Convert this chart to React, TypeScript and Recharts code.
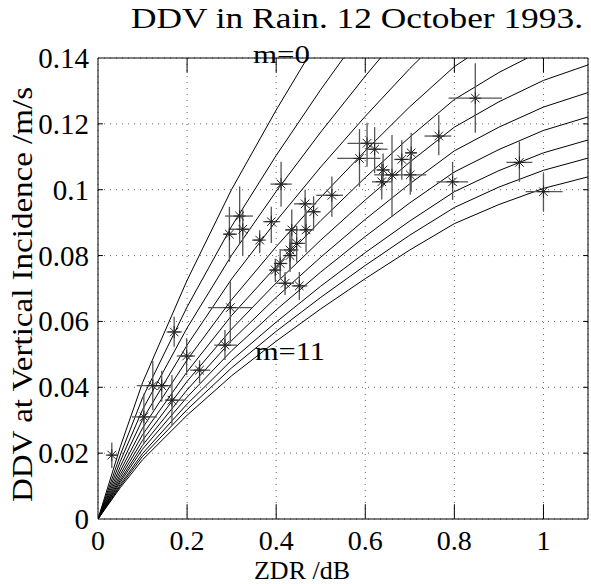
import React from 'react';
import {
  ComposedChart, Line, Scatter, XAxis, YAxis, CartesianGrid, ErrorBar, ReferenceLine,
} from 'recharts';

const curveZdr = [0, 0.05, 0.1, 0.2, 0.3, 0.4, 0.5, 0.6, 0.7, 0.8, 0.9, 1.0, 1.1];

// DDV along each curve (m = 0 .. 11), read at curveZdr
const ddvM0 = [0, 0.0219, 0.0414, 0.0725, 0.1001, 0.1242];
const ddvM1 = [0, 0.0194, 0.0368, 0.0644, 0.0889, 0.1104, 0.1304];
const ddvM2 = [0, 0.0175, 0.0332, 0.058, 0.0801, 0.0995, 0.1175, 0.1345];
const ddvM3 = [0, 0.0159, 0.0302, 0.0528, 0.0729, 0.0905, 0.1069, 0.1223, 0.1368];
const ddvM4 = [0, 0.0146, 0.0276, 0.0483, 0.0666, 0.0827, 0.0977, 0.1118, 0.1252, 0.1374];
const ddvM5 = [0, 0.0135, 0.0256, 0.0447, 0.0618, 0.0767, 0.0906, 0.1037, 0.116, 0.1274, 0.1356];
const ddvM6 = [0, 0.0126, 0.0239, 0.0418, 0.0577, 0.0717, 0.0847, 0.0969, 0.1084, 0.119, 0.1267, 0.1332, 0.1379];
const ddvM7 = [0, 0.0118, 0.0224, 0.0392, 0.0542, 0.0673, 0.0795, 0.091, 0.1018, 0.1118, 0.119, 0.1251, 0.1295];
const ddvM8 = [0, 0.0112, 0.0212, 0.037, 0.0511, 0.0635, 0.075, 0.0858, 0.096, 0.1054, 0.1122, 0.118, 0.1221];
const ddvM9 = [0, 0.0105, 0.0199, 0.0349, 0.0482, 0.0598, 0.0707, 0.0809, 0.0905, 0.0994, 0.1058, 0.1112, 0.1151];
const ddvM10 = [0, 0.01, 0.019, 0.0332, 0.0459, 0.057, 0.0673, 0.077, 0.0862, 0.0946, 0.1008, 0.1059, 0.1096];
const ddvM11 = [0, 0.0095, 0.018, 0.0315, 0.0435, 0.054, 0.0638, 0.073, 0.0817, 0.0897, 0.0955, 0.1004, 0.1039];

// where m = 0..5 leave the top of the axes (DDV = 0.14)
const topExitZdr = [0.47, 0.551, 0.634, 0.724, 0.829, 0.964];

// observations with their error ranges
const obsZdr = [0.031, 0.103, 0.123, 0.143, 0.166, 0.171, 0.199, 0.228, 0.285, 0.297, 0.295, 0.318, 0.325, 0.363, 0.389, 0.411, 0.435, 0.431, 0.446, 0.465, 0.467, 0.484, 0.525, 0.398, 0.409, 0.431, 0.42, 0.452, 0.604, 0.621, 0.587, 0.64, 0.66, 0.637, 0.682, 0.703, 0.701, 0.765, 0.847, 0.796, 0.946, 1.0];
const obsDdv = [0.0194, 0.031, 0.0405, 0.0405, 0.0361, 0.0568, 0.0495, 0.0452, 0.0528, 0.0642, 0.0865, 0.092, 0.088, 0.0847, 0.0903, 0.1017, 0.0878, 0.0817, 0.0837, 0.0957, 0.0878, 0.0933, 0.0983, 0.0756, 0.0776, 0.08, 0.0716, 0.0708, 0.1141, 0.1123, 0.1095, 0.106, 0.1045, 0.1024, 0.1092, 0.1112, 0.1045, 0.1163, 0.1278, 0.1024, 0.1083, 0.0994];
const zdrLow = [0.022, 0.076, 0.087, 0.128, 0.15, 0.154, 0.177, 0.207, 0.261, 0.247, 0.281, 0.285, 0.293, 0.346, 0.371, 0.387, 0.42, 0.41, 0.43, 0.44, 0.45, 0.47, 0.49, 0.385, 0.395, 0.415, 0.4, 0.435, 0.56, 0.6, 0.537, 0.625, 0.645, 0.615, 0.665, 0.69, 0.62, 0.733, 0.787, 0.76, 0.917, 0.96];
const zdrHigh = [0.042, 0.132, 0.162, 0.157, 0.196, 0.188, 0.218, 0.252, 0.312, 0.345, 0.312, 0.348, 0.341, 0.37, 0.409, 0.435, 0.45, 0.45, 0.465, 0.49, 0.485, 0.5, 0.55, 0.41, 0.425, 0.445, 0.44, 0.47, 0.64, 0.65, 0.634, 0.655, 0.675, 0.66, 0.7, 0.715, 0.737, 0.793, 0.907, 0.831, 0.975, 1.043];
const ddvLow = [0.0155, 0.023, 0.033, 0.0356, 0.0285, 0.0523, 0.0437, 0.0413, 0.0483, 0.0534, 0.0781, 0.0838, 0.08, 0.0808, 0.0838, 0.0948, 0.082, 0.076, 0.078, 0.087, 0.081, 0.088, 0.0918, 0.072, 0.073, 0.075, 0.068, 0.0665, 0.107, 0.105, 0.1009, 0.101, 0.0918, 0.097, 0.103, 0.0994, 0.0985, 0.1105, 0.1173, 0.0969, 0.1024, 0.0933];
const ddvHigh = [0.0232, 0.038, 0.048, 0.045, 0.0437, 0.0614, 0.0549, 0.0482, 0.0574, 0.0721, 0.0948, 0.101, 0.094, 0.0877, 0.0948, 0.1085, 0.094, 0.087, 0.089, 0.1, 0.094, 0.098, 0.104, 0.079, 0.082, 0.085, 0.075, 0.075, 0.1203, 0.119, 0.1184, 0.111, 0.1166, 0.108, 0.115, 0.1173, 0.11, 0.1227, 0.1384, 0.1085, 0.1146, 0.105];

const xTicks = [0, 0.2, 0.4, 0.6, 0.8, 1];
const yTicks = [0, 0.02, 0.04, 0.06, 0.08, 0.1, 0.12, 0.14];

const curves = [ddvM0, ddvM1, ddvM2, ddvM3, ddvM4, ddvM5, ddvM6, ddvM7, ddvM8, ddvM9, ddvM10, ddvM11].map((vals, m) => {
  const pts = vals.map((y, i) => ({ x: curveZdr[i], y }));
  if (m < topExitZdr.length) pts.push({ x: topExitZdr[m], y: 0.14 });
  return pts;
});

const obs = obsZdr.map((x, i) => ({
  x,
  y: obsDdv[i],
  ex: [x - zdrLow[i], zdrHigh[i] - x],
  ey: [obsDdv[i] - ddvLow[i], ddvHigh[i] - obsDdv[i]],
}));

const serif = "'Liberation Serif', 'Times New Roman', Times, serif";

const Star = (props: any) => {
  const { cx, cy } = props;
  const r = 6;
  const d = 4.3;
  return (
    <g stroke="#222" strokeWidth={1}>
      <line x1={cx - r} y1={cy} x2={cx + r} y2={cy} />
      <line x1={cx} y1={cy - r} x2={cx} y2={cy + r} />
      <line x1={cx - d} y1={cy - d} x2={cx + d} y2={cy + d} />
      <line x1={cx - d} y1={cy + d} x2={cx + d} y2={cy - d} />
    </g>
  );
};

const XTick = ({ x, y, payload }: any) => (
  <text x={x} y={y + 23} textAnchor="middle" style={{ fontFamily: serif, fontSize: 28 }} fill="#000">
    {payload.value}
  </text>
);

const YTick = ({ x, y, payload }: any) => (
  <text x={x - 1} y={y + 10} textAnchor="end" style={{ fontFamily: serif, fontSize: 29 }} fill="#000">
    {payload.value}
  </text>
);

// inward tick marks like the original axes
const tickLenX = 0.011;
const tickLenY = 0.0045;

export default function App() {
  return (
    <div style={{ position: 'absolute', left: 0, top: 0, width: 591, height: 584, background: '#fff' }}>
      <style>{`svg text { font-family: ${serif}; }`}</style>
      <ComposedChart width={591} height={584} margin={{ top: 58, right: 3, bottom: 0, left: 0 }}>
        <CartesianGrid stroke="#666" strokeDasharray="1 5" />
        <XAxis
          dataKey="x"
          type="number"
          domain={[0, 1.1]}
          ticks={xTicks}
          height={65}
          tickLine={false}
          axisLine={{ stroke: '#000' }}
          tick={<XTick />}
          allowDataOverflow
        />
        <YAxis
          dataKey="y"
          type="number"
          domain={[0, 0.14]}
          ticks={yTicks}
          width={98}
          tickLine={false}
          axisLine={{ stroke: '#000' }}
          tick={<YTick />}
          allowDataOverflow
        />
        <ReferenceLine y={0.14} stroke="#000" />
        <ReferenceLine x={1.1} stroke="#000" />
        {xTicks.slice(1).map((t) => (
          <ReferenceLine key={'xb' + t} segment={[{ x: t, y: 0 }, { x: t, y: tickLenY }]} stroke="#000" />
        ))}
        {xTicks.slice(1).map((t) => (
          <ReferenceLine key={'xt' + t} segment={[{ x: t, y: 0.14 }, { x: t, y: 0.14 - tickLenY }]} stroke="#000" />
        ))}
        {yTicks.slice(1, -1).map((t) => (
          <ReferenceLine key={'yl' + t} segment={[{ x: 0, y: t }, { x: tickLenX, y: t }]} stroke="#000" />
        ))}
        {yTicks.slice(1, -1).map((t) => (
          <ReferenceLine key={'yr' + t} segment={[{ x: 1.1, y: t }, { x: 1.1 - tickLenX, y: t }]} stroke="#000" />
        ))}
        {curves.map((data, m) => (
          <Line
            key={m}
            data={data}
            dataKey="y"
            type="linear"
            stroke="#000"
            strokeWidth={1}
            dot={false}
            isAnimationActive={false}
          />
        ))}
        <Scatter data={obs} dataKey="y" shape={<Star />} isAnimationActive={false}>
          <ErrorBar dataKey="ex" direction="x" width={0} stroke="#555" strokeWidth={1.3} />
          <ErrorBar dataKey="ey" direction="y" width={0} stroke="#555" strokeWidth={1.3} />
        </Scatter>
      </ComposedChart>
      <svg
        width={591}
        height={584}
        style={{ position: 'absolute', left: 0, top: 0, pointerEvents: 'none' }}
        fill="#000"
      >
        <text x={131} y={28} fontSize={29} textLength={452} lengthAdjust="spacingAndGlyphs">
          DDV in Rain. 12 October 1993.
        </text>
        <text x={253} y={63} fontSize={25} textLength={57} lengthAdjust="spacingAndGlyphs">m=0</text>
        <text x={255} y={360} fontSize={25} textLength={70} lengthAdjust="spacingAndGlyphs">m=11</text>
        <text x={254} y={579} fontSize={25} textLength={96} lengthAdjust="spacingAndGlyphs">ZDR /dB</text>
        <text
          transform="translate(32, 502) rotate(-90)"
          fontSize={29}
          textLength={415}
          lengthAdjust="spacingAndGlyphs"
        >
          DDV at Vertical Incidence /m/s
        </text>
      </svg>
    </div>
  );
}
